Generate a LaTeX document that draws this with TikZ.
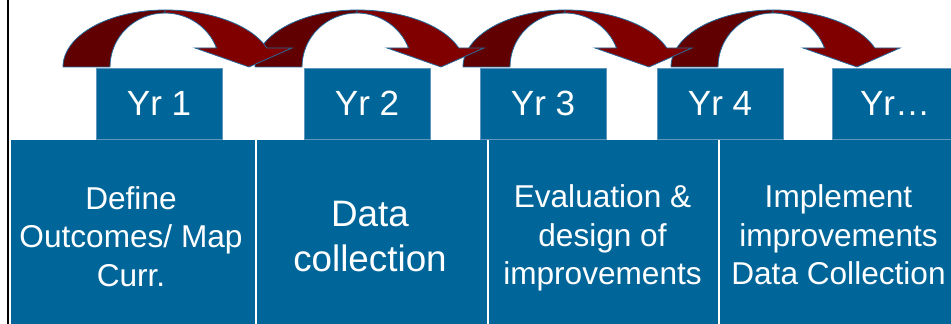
\documentclass[tikz,border=0pt]{standalone}
\usepackage{fontspec}
\setmainfont{Liberation Sans}
\definecolor{boxblue}{RGB}{0,102,153}
\definecolor{boxedge}{RGB}{95,150,190}
\definecolor{arrdark}{RGB}{96,0,0}
\definecolor{arrbright}{RGB}{128,0,0}
\definecolor{arrline}{RGB}{35,105,155}
\tikzset{
  yrbox/.style={fill=boxblue, draw=boxedge, line width=0.6pt, minimum width=126pt,
    minimum height=71pt, inner sep=0pt, text=white, font=\fontsize{35}{42}\selectfont},
  stagebox/.style={fill=boxblue, draw=white, line width=1.2pt, inner sep=0pt,
    anchor=south west, minimum height=189pt},
  stagetext/.style={text=white, align=center, inner sep=0pt,
    font=\fontsize{31.6}{38.5}\selectfont},
  backpart/.style={fill=arrdark, draw=arrline, line width=0.8pt, line join=round},
  frontpart/.style={fill=arrbright, draw=arrline, line width=0.8pt, line join=miter},
}
\begin{document}
\begin{tikzpicture}[x=1pt,y=1pt]
\clip (0,0) rectangle (951,324);
\fill[white] (0,0) rectangle (951,324);
% bottom stage boxes
\node[stagebox, minimum width=245pt] (s1) at (10,-5) {};
\node[stagebox, minimum width=231pt] (s2) at (256,-5) {};
\node[stagebox, minimum width=230pt] (s3) at (488,-5) {};
\node[stagebox, minimum width=245pt] (s4) at (719,-5) {};
\node[stagetext] (t1) at (131,87.5) {Define\\Outcomes/ Map\\Curr.};
\node[stagetext, font=\fontsize{36.8}{45}\selectfont] (t2) at (370,87.7) {Data\\collection};
\node[stagetext] (t3) at (602.5,85.7) {Evaluation \&\\design of\\improvements};
\node[stagetext] (t4) at (838.5,89) {Implement\\improvements\\Data Collection};
% year boxes
\node[yrbox] (y1) at (159,220.5) {Yr 1};
\node[yrbox] (y2) at (367,220.5) {Yr 2};
\node[yrbox] (y3) at (543,220.5) {Yr 3};
\node[yrbox] (y4) at (720,220.5) {Yr 4};
\node[yrbox] (y5) at (895,220.5) {Yr…};
% curved arrows
\foreach \dx in {608,400,192,0}{
  \begin{scope}[shift={(\dx,0)}]
    \filldraw[backpart] (63,257) arc[start angle=180,end angle=90,x radius=102,y radius=57]
      -- (165,311) arc[start angle=90,end angle=180,x radius=55,y radius=54] -- cycle;
    \filldraw[frontpart] (165,314) arc[start angle=90,end angle=19.47,x radius=108,y radius=57]
      -- (292,276) -- (249,257) -- (195,276) -- (216.5,276)
      arc[start angle=20.6,end angle=90,x radius=55,y radius=54] -- cycle;
  \end{scope}
}
% left border
\draw[line width=2.5pt] (8,-2) -- (8,326);
\end{tikzpicture}
\end{document}
